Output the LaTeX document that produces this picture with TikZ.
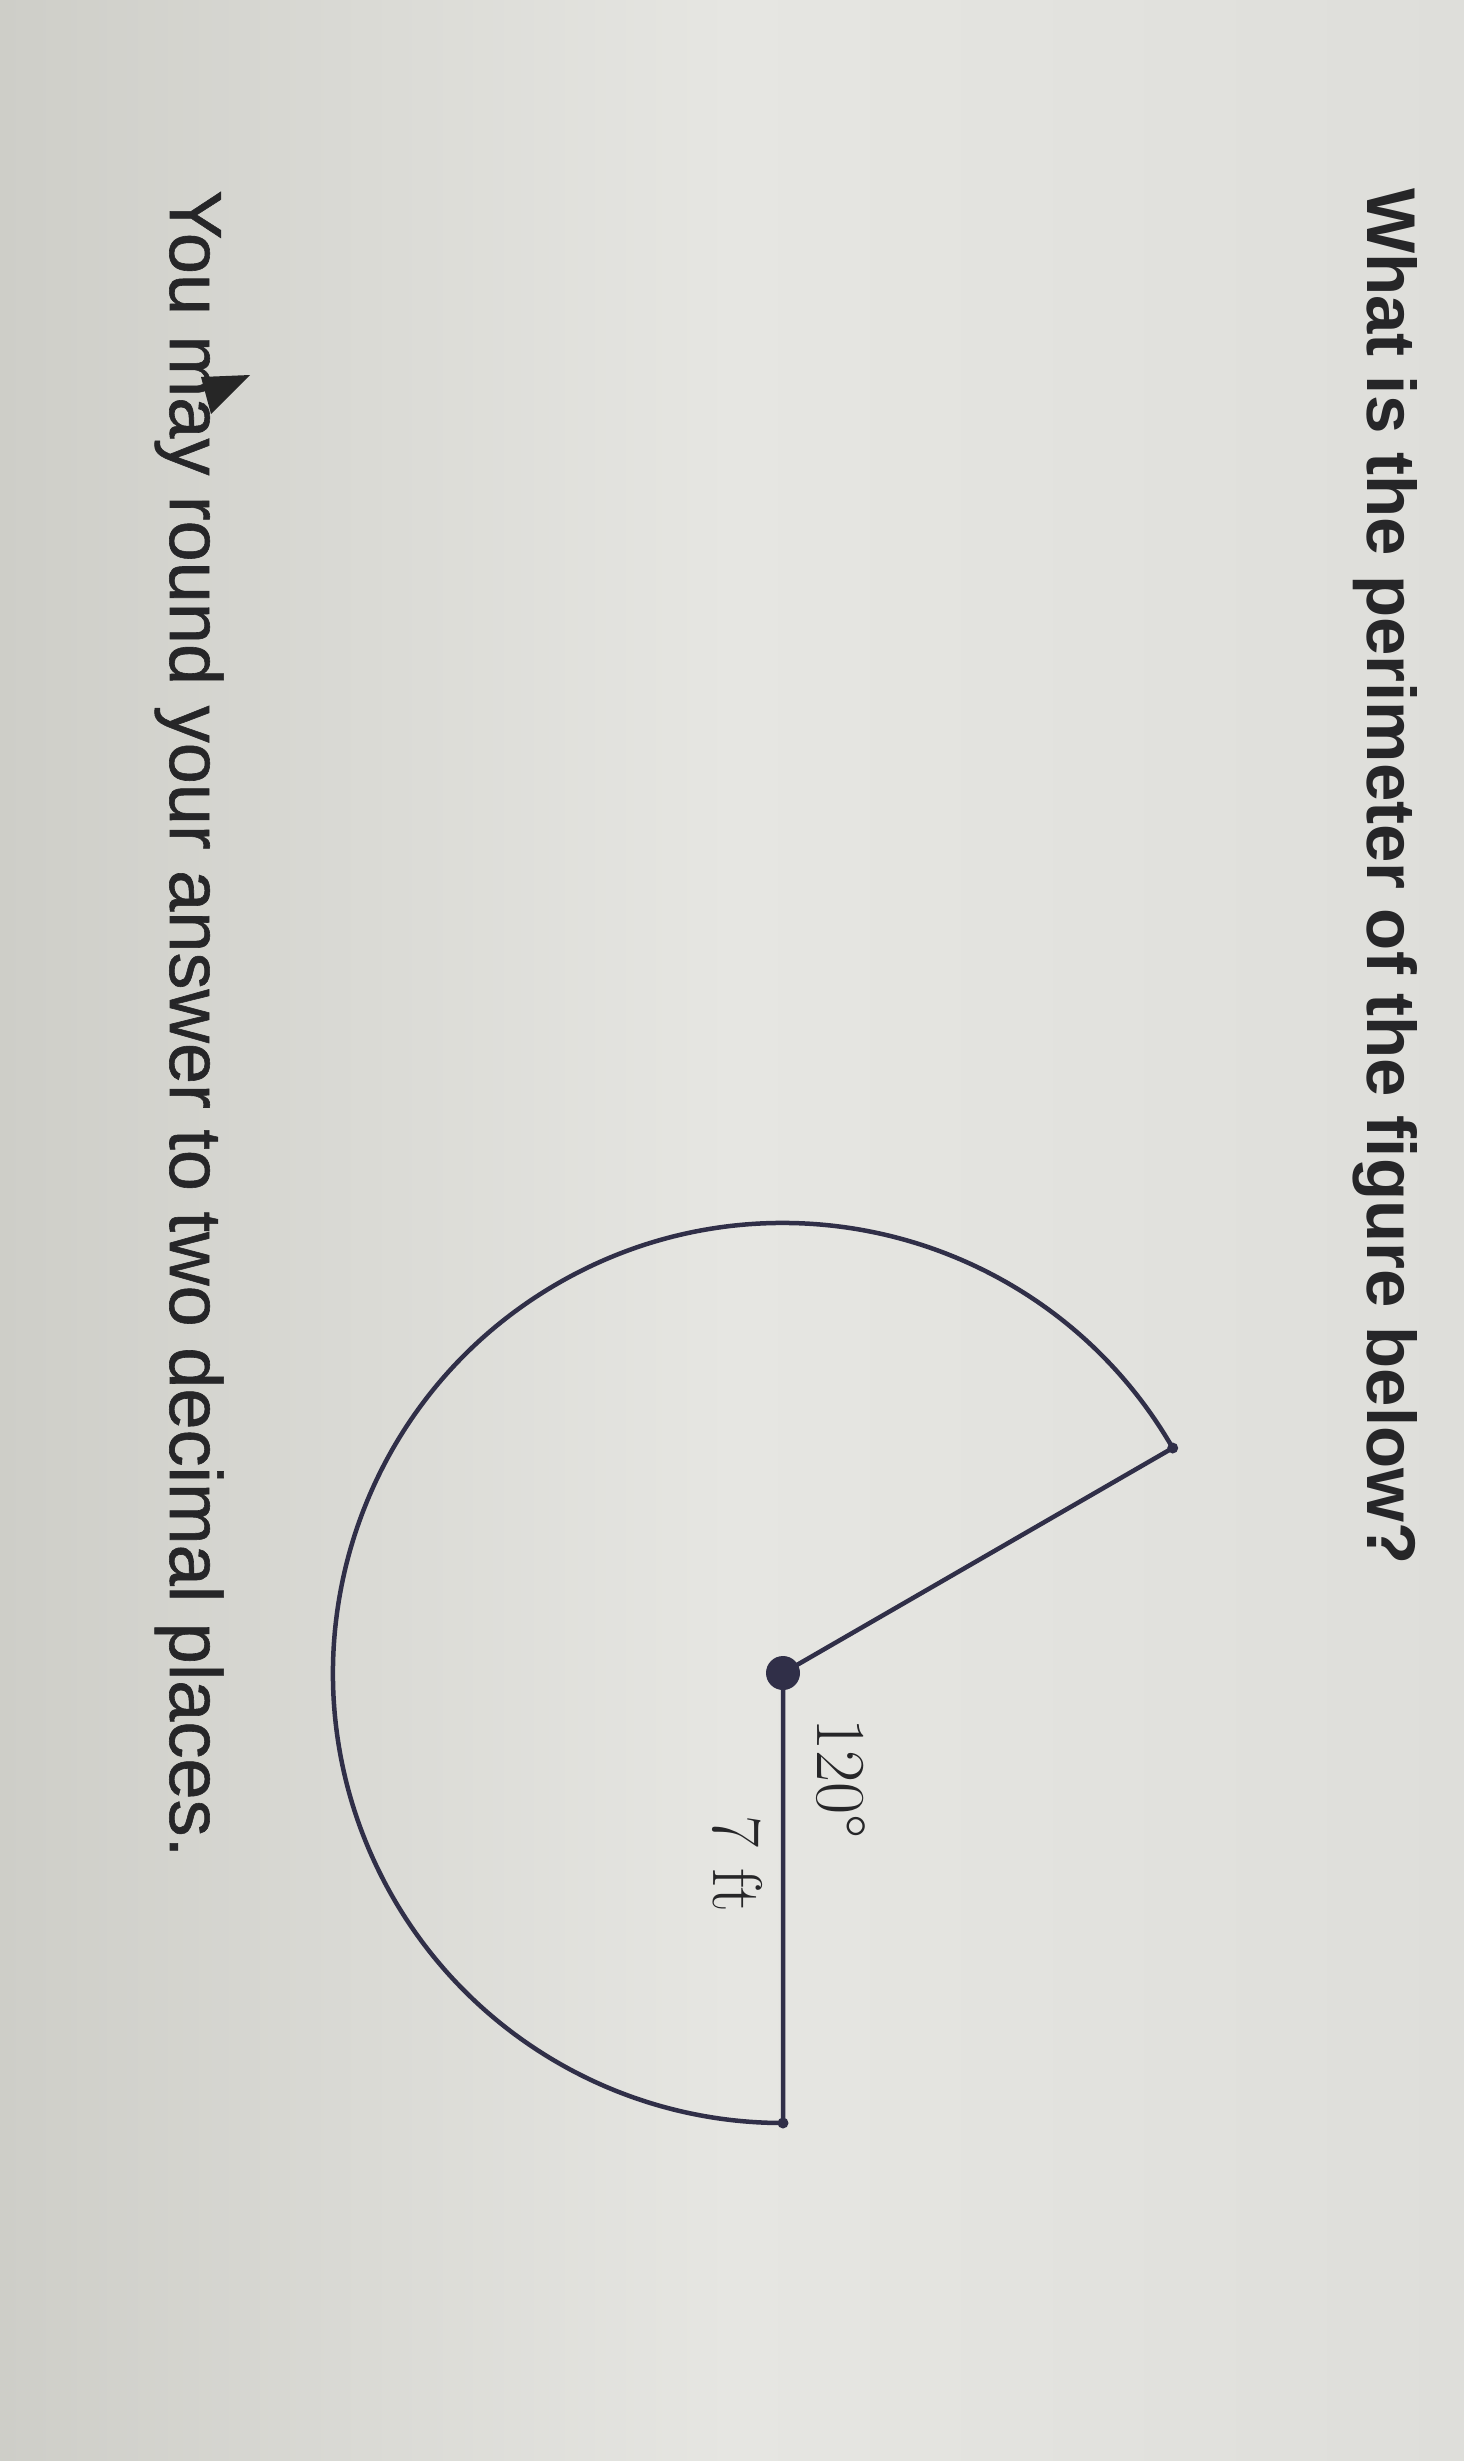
\documentclass[tikz,border=0pt]{standalone}
\usepackage{fontspec}
\usetikzlibrary{calc}
\newfontfamily\arialfont{Liberation Sans}
\newfontfamily\arialmedium[FakeBold=0.8]{Liberation Sans}
\definecolor{bgL}{RGB}{206,206,200}
\definecolor{bgM}{RGB}{230,230,226}
\definecolor{bgR}{RGB}{222,222,218}
\definecolor{figcol}{RGB}{48,47,72}
\definecolor{txtcol}{RGB}{38,38,40}
\begin{document}
\begin{tikzpicture}[x=1pt,y=1pt,
  figline/.style={draw=figcol,line width=4.5pt,line join=round},
  question/.style={rotate=-90,anchor=base west,inner sep=0pt,text=txtcol,font=\arialfont\bfseries\fontsize{69}{80}\selectfont},
  hint/.style={rotate=-90,anchor=base west,inner sep=0pt,text=txtcol,font=\arialmedium\fontsize{74}{84}\selectfont},
  lbl/.style={rotate=-90,anchor=base west,inner sep=0pt,text=txtcol,font=\fontsize{70}{80}\selectfont},
  bigdot/.style={circle,fill=figcol,inner sep=0pt,minimum size=34pt},
  smalldot/.style={circle,fill=figcol,inner sep=0pt,minimum size=11pt}]
\useasboundingbox (0,0) rectangle (1464,-2461);
\shade[left color=bgL,right color=bgR,middle color=bgM] (0,0) rectangle (1464,-2461);
% figure
\node[bigdot] (O) at (783,-1673) {};
\coordinate (A) at ($(783,-1673)+(30:450)$);
\coordinate (B) at (783,-2123);
\draw[figline] (A) arc[start angle=30,end angle=270,radius=450] -- (O.center) -- cycle;
\node[smalldot] (Ad) at (A) {};
\node[smalldot] (Bd) at (B) {};
% labels
\node[lbl] (ang) at (817,-1718) {120°};
\node[lbl] (len) at (713,-1815) {7 ft};
% texts
\node[question] (q) at (1367,-188) {What is the perimeter of the figure below?};
\node[hint] (h) at (170,-190) {You may round your answer to two decimal places.};
% mouse cursor
\fill[black!85] (250,-375) -- (201,-377) -- (211,-414) -- cycle;
\end{tikzpicture}
\end{document}
